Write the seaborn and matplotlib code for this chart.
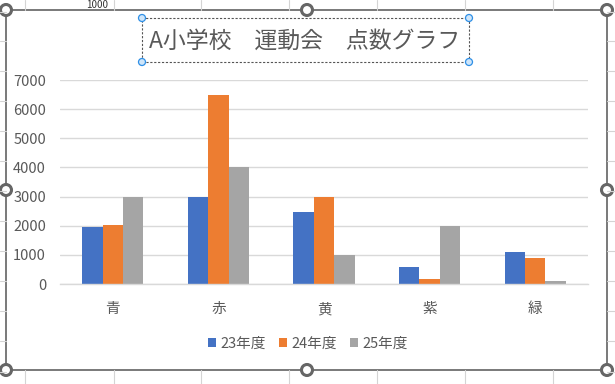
import matplotlib
matplotlib.use("Agg")
import matplotlib.pyplot as plt
import seaborn as sns
import pandas as pd
from matplotlib.lines import Line2D
from matplotlib.patches import Rectangle, Ellipse

categories = ["青", "赤", "黄", "紫", "緑"]
years = ["23年度", "24年度", "25年度"]
v23 = [1960, 3000, 2470, 580, 1100]
v24 = [2020, 6500, 3000, 170, 890]
v25 = [3000, 4000, 1000, 2000, 100]
yticks = [0, 1000, 2000, 3000, 4000, 5000, 6000, 7000]
colors = ["#4472C4", "#ED7D31", "#A5A5A5"]
title = "A小学校\u3000運動会\u3000点数グラフ"

df = pd.DataFrame({
    "cat": categories * 3,
    "year": [years[0]] * 5 + [years[1]] * 5 + [years[2]] * 5,
    "val": v23 + v24 + v25,
})

sns.set_theme(style="white")
plt.rcParams["font.family"] = ["Noto Sans CJK JP", "DejaVu Sans"]
txt = "#595959"

W, H = 615, 384
fig = plt.figure(figsize=(W / 100, H / 100), dpi=100)
fig.patch.set_facecolor("white")

def fx(x):
    return x / W

def fy(y):
    return 1 - y / H

# spreadsheet gridlines outside the chart
for x in [25, 114, 201, 289, 377, 465, 553]:
    fig.add_artist(Line2D([fx(x), fx(x)], [fy(370), fy(384)], color="#D4D4D4", lw=0.8))
    fig.add_artist(Line2D([fx(x), fx(x)], [fy(0), fy(10)], color="#D4D4D4", lw=0.8))
for y in [12, 41, 71, 101, 131, 161, 191, 221, 251, 281, 311, 341, 372]:
    fig.add_artist(Line2D([fx(0), fx(6)], [fy(y), fy(y)], color="#D4D4D4", lw=0.8))
    fig.add_artist(Line2D([fx(607), fx(615)], [fy(y), fy(y)], color="#D4D4D4", lw=0.8))
fig.text(fx(108), fy(0.5), "1000", ha="right", va="top", fontsize=7, color="#333333")

# chart area border
fig.add_artist(Rectangle((fx(6), fy(370)), fx(601), 360 / H, fill=False,
                         edgecolor="#6E6E6E", lw=1.3))

left, right, top, bottom = 60, 588, 80, 284
ax = fig.add_axes([fx(left), fy(bottom), (right - left) / W, (bottom - top) / H])
sns.barplot(data=df, x="cat", y="val", hue="year", palette=colors, width=0.58,
            saturation=1, ax=ax, errorbar=None, legend=True, linewidth=0,
            edgecolor="none")
ax.set_ylim(0, 7000)
ax.set_xlim(-0.5, 4.5)
ax.set_yticks(yticks)
ax.set_yticklabels([str(t) for t in yticks])
ax.yaxis.grid(True, color="#D9D9D9", lw=1)
ax.set_axisbelow(True)
for s in ["top", "right", "left"]:
    ax.spines[s].set_visible(False)
ax.spines["bottom"].set_color("#D9D9D9")
ax.spines["bottom"].set_linewidth(1)
ax.tick_params(axis="y", length=0, pad=10, labelsize=10.5, labelcolor=txt)
ax.tick_params(axis="x", length=0, pad=13, labelsize=10.5, labelcolor=txt)
ax.set_xlabel("")
ax.set_ylabel("")
ax.patch.set_alpha(0)

handles, labels = ax.get_legend_handles_labels()
ax.get_legend().remove()
fig.legend(handles, labels, loc="center", bbox_to_anchor=(fx(308), fy(344)), ncol=3,
           frameon=False, fontsize=10.5, labelcolor=txt, handlelength=0.55,
           handleheight=0.55, handletextpad=0.3, columnspacing=0.9)

fig.text(fx(305), fy(41), title, ha="center", va="center", fontsize=16.5, color=txt)

# title selection box
fig.add_artist(Rectangle((fx(142), fy(62)), fx(469 - 142), 44 / H, fill=False,
                         edgecolor="#555555", lw=0.8, linestyle=(0, (2, 1.5))))
for (x, y) in [(142, 18), (469, 18), (142, 62), (469, 62)]:
    fig.add_artist(Ellipse((fx(x), fy(y)), 7 / W, 7 / H, transform=fig.transFigure,
                           facecolor="#CFE6FA", edgecolor="#2E8FE6", lw=0.9))

# chart handles
for (x, y) in [(6, 10), (307, 10), (607, 10), (6, 190), (607, 190),
               (6, 370), (307, 370), (607, 370)]:
    fig.add_artist(Ellipse((fx(x), fy(y)), 11 / W, 11 / H, transform=fig.transFigure,
                           facecolor="white", edgecolor="#666666", lw=2.2))

fig.savefig("out.png", dpi=100)
